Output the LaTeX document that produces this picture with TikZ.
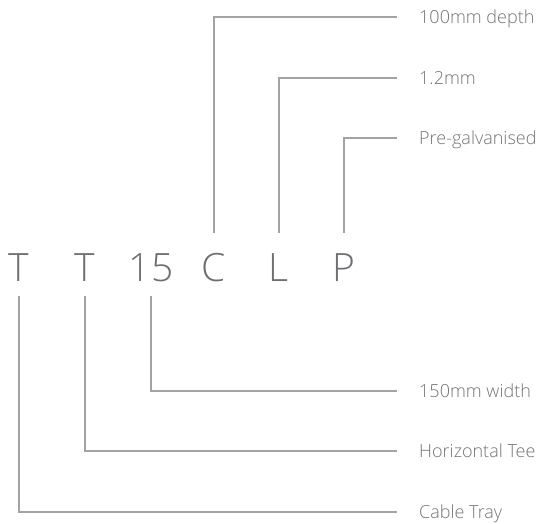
\documentclass[tikz,border=0pt]{standalone}
\usepackage{fontspec}
\setmainfont{Open Sans Light}
\begin{document}
\begin{tikzpicture}[x=1pt,y=-1pt,
  letter/.style={inner xsep=0pt, inner ysep=15pt, text height=33pt, text depth=0pt,
    text=letgray, font=\fontsize{39}{39}\selectfont, anchor=base},
  lab/.style={inner xsep=22pt, inner ysep=0pt, text height=13pt, text depth=0pt,
    anchor=west, text=labgray, font=\fontsize{18}{18}\selectfont},
  conn/.style={draw=linegray, line width=1.2pt}]
\definecolor{letgray}{HTML}{6D6E71}
\definecolor{labgray}{HTML}{737373}
\definecolor{linegray}{HTML}{A3A3A3}
\useasboundingbox (0,0) rectangle (544,523);
\node[letter] (t1) at (19,281) {T};
\node[letter] (t2) at (85,281) {T};
\node[letter] (n15) at (151,281) {15};
\node[letter] (c) at (214,281) {C};
\node[letter] (l) at (279,281) {L};
\node[letter] (p) at (344,281) {P};
\node[lab] (depth) at (397,17) {100mm depth};
\node[lab] (thick) at (397,78) {1.2mm};
\node[lab] (galv) at (397,138) {Pre-galvanised};
\node[lab] (width) at (397,391) {150mm width};
\node[lab] (tee) at (397,451) {Horizontal Tee};
\node[lab] (tray) at (397,512) {Cable Tray};
\draw[conn] (c.north) |- (depth.west);
\draw[conn] (l.north) |- (thick.west);
\draw[conn] (p.north) |- (galv.west);
\draw[conn] (n15.south) |- (width.west);
\draw[conn] (t2.south) |- (tee.west);
\draw[conn] (t1.south) |- (tray.west);
\end{tikzpicture}
\end{document}
